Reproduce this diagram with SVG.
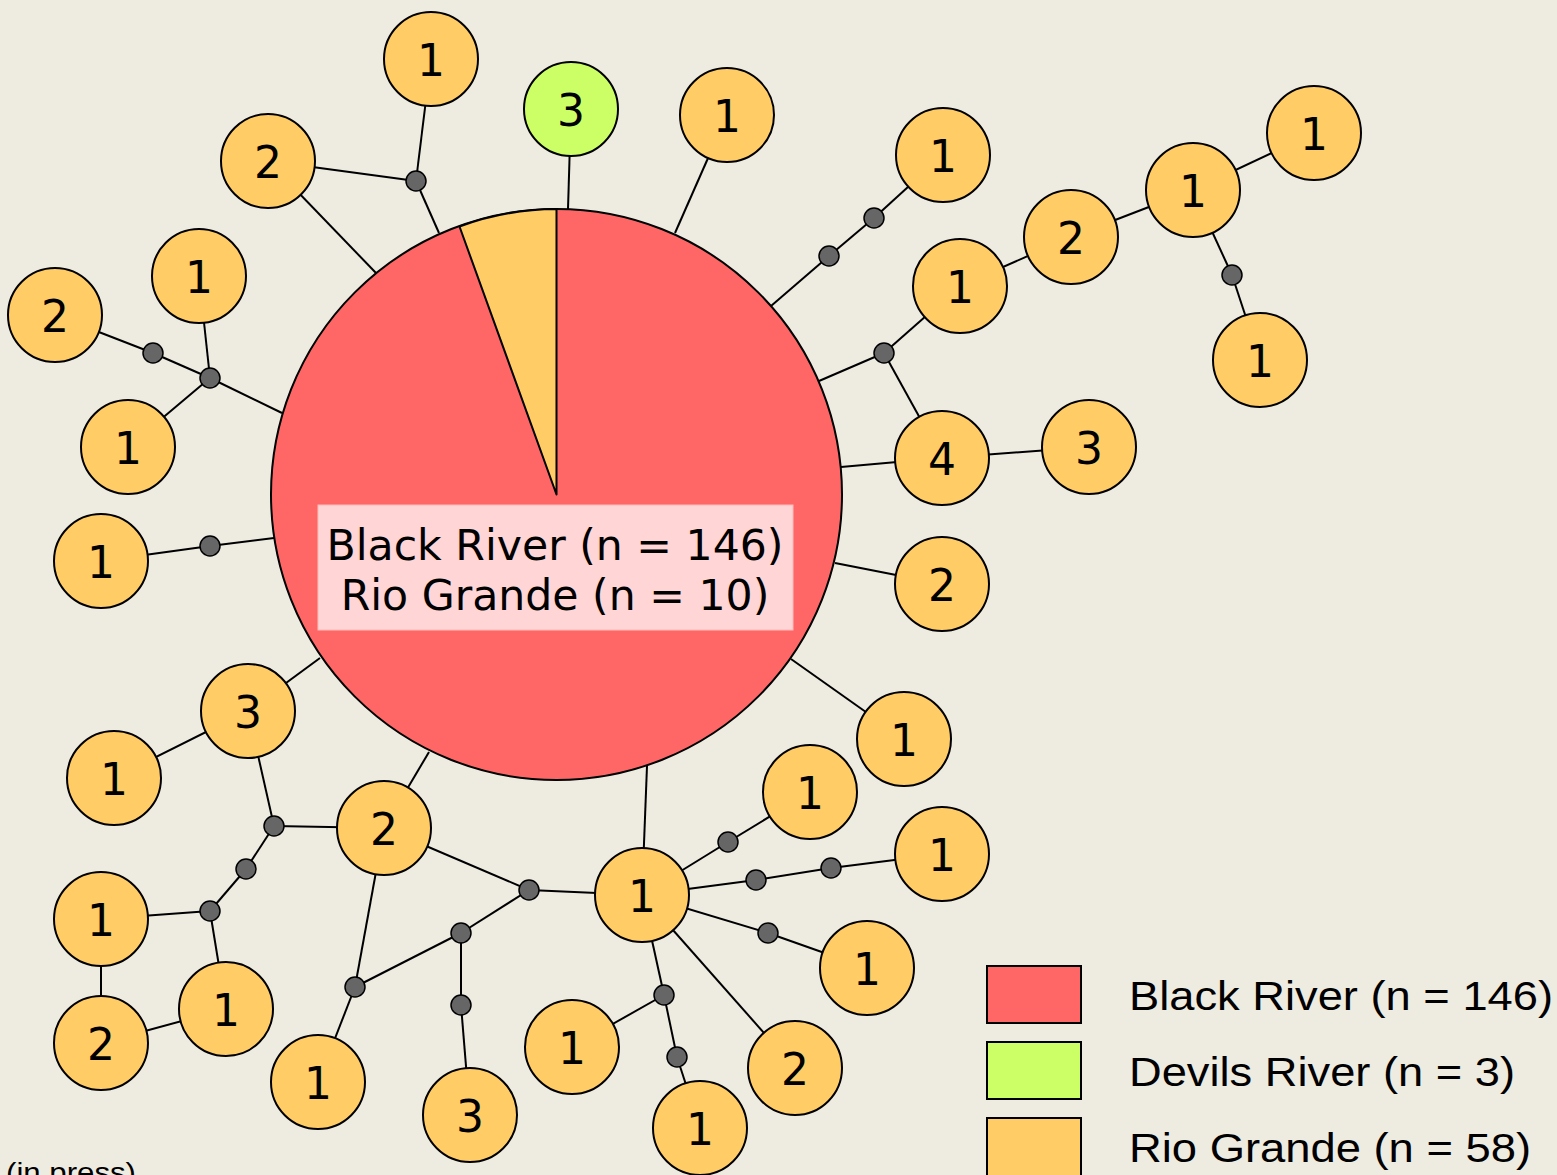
<svg xmlns="http://www.w3.org/2000/svg" width="1557" height="1175" viewBox="0 0 1557 1175">
<style>
.e{stroke:#000;stroke-width:2;fill:none}
.n{fill:#ffcc66;stroke:#000;stroke-width:2}
.g{fill:#ccff66;stroke:#000;stroke-width:2}
.d{fill:#666;stroke:#000;stroke-width:1.5}
.t{font-family:"DejaVu Sans",Verdana,sans-serif;font-size:44px;text-anchor:middle;fill:#000}
.lg{font-family:"Liberation Sans",Arial,sans-serif;font-size:40px;fill:#000}
</style>
<rect width="1557" height="1175" fill="#eeebe1"/>
<g id="connectors" class="e">
<line x1="431" y1="59" x2="416" y2="181"/>
<line x1="268" y1="161" x2="416" y2="181"/>
<line x1="416" y1="181" x2="439" y2="233"/>
<line x1="268" y1="161" x2="376" y2="273"/>
<line x1="571" y1="109" x2="568" y2="209"/>
<line x1="727" y1="115" x2="675" y2="233"/>
<line x1="943" y1="155" x2="874" y2="218"/>
<line x1="874" y1="218" x2="829" y2="256"/>
<line x1="829" y1="256" x2="771" y2="306"/>
<line x1="819" y1="381" x2="884" y2="353"/>
<line x1="884" y1="353" x2="960" y2="286"/>
<line x1="884" y1="353" x2="942" y2="458"/>
<line x1="960" y1="286" x2="1071" y2="237"/>
<line x1="1071" y1="237" x2="1193" y2="190"/>
<line x1="1193" y1="190" x2="1314" y2="133"/>
<line x1="1193" y1="190" x2="1232" y2="275"/>
<line x1="1232" y1="275" x2="1260" y2="360"/>
<line x1="841" y1="467" x2="942" y2="458"/>
<line x1="942" y1="458" x2="1089" y2="447"/>
<line x1="835" y1="563" x2="942" y2="584"/>
<line x1="791" y1="659" x2="904" y2="739"/>
<line x1="55" y1="315" x2="153" y2="353"/>
<line x1="153" y1="353" x2="210" y2="378"/>
<line x1="199" y1="276" x2="210" y2="378"/>
<line x1="128" y1="447" x2="210" y2="378"/>
<line x1="210" y1="378" x2="282" y2="413"/>
<line x1="101" y1="561" x2="210" y2="546"/>
<line x1="210" y1="546" x2="274" y2="538"/>
<line x1="248" y1="711" x2="320" y2="658"/>
<line x1="248" y1="711" x2="114" y2="778"/>
<line x1="248" y1="711" x2="274" y2="826"/>
<line x1="274" y1="826" x2="384" y2="828"/>
<line x1="274" y1="826" x2="246" y2="869"/>
<line x1="246" y1="869" x2="210" y2="911"/>
<line x1="210" y1="911" x2="101" y2="919"/>
<line x1="210" y1="911" x2="226" y2="1009"/>
<line x1="101" y1="919" x2="101" y2="1043"/>
<line x1="101" y1="1043" x2="226" y2="1009"/>
<line x1="384" y1="828" x2="429" y2="752"/>
<line x1="384" y1="828" x2="529" y2="890"/>
<line x1="384" y1="828" x2="355" y2="987"/>
<line x1="355" y1="987" x2="318" y2="1082"/>
<line x1="355" y1="987" x2="461" y2="933"/>
<line x1="461" y1="933" x2="529" y2="890"/>
<line x1="461" y1="933" x2="461" y2="1005"/>
<line x1="461" y1="1005" x2="470" y2="1115"/>
<line x1="529" y1="890" x2="642" y2="895"/>
<line x1="642" y1="895" x2="647" y2="766"/>
<line x1="642" y1="895" x2="728" y2="842"/>
<line x1="728" y1="842" x2="810" y2="792"/>
<line x1="642" y1="895" x2="756" y2="880"/>
<line x1="756" y1="880" x2="831" y2="868"/>
<line x1="831" y1="868" x2="942" y2="854"/>
<line x1="642" y1="895" x2="768" y2="933"/>
<line x1="768" y1="933" x2="867" y2="968"/>
<line x1="642" y1="895" x2="795" y2="1068"/>
<line x1="642" y1="895" x2="664" y2="995"/>
<line x1="664" y1="995" x2="572" y2="1047"/>
<line x1="664" y1="995" x2="677" y2="1057"/>
<line x1="677" y1="1057" x2="700" y2="1128"/>
</g>
<g id="hub">
<circle cx="556.5" cy="494.5" r="285.5" fill="#ff6666" stroke="#000" stroke-width="2"/>
<path d="M556.5,494.5 L556.5,209 A285.5,285.5 0 0 0 459.5,226.5 Z" fill="#ffcc66" stroke="#000" stroke-width="2" stroke-linejoin="round"/>
<rect x="318" y="505" width="475" height="125" fill="#ffd5d5" stroke="#ffbcbc" stroke-width="1"/>
<text class="t" x="555" y="560" style="font-size:42.6px">Black River (n = 146)</text>
<text class="t" x="555" y="610" style="font-size:42.6px">Rio Grande (n = 10)</text>
</g>
<g id="dots">
<circle class="d" cx="416" cy="181" r="10"/>
<circle class="d" cx="874" cy="218" r="10"/>
<circle class="d" cx="829" cy="256" r="10"/>
<circle class="d" cx="884" cy="353" r="10"/>
<circle class="d" cx="1232" cy="275" r="10"/>
<circle class="d" cx="153" cy="353" r="10"/>
<circle class="d" cx="210" cy="378" r="10"/>
<circle class="d" cx="210" cy="546" r="10"/>
<circle class="d" cx="274" cy="826" r="10"/>
<circle class="d" cx="246" cy="869" r="10"/>
<circle class="d" cx="210" cy="911" r="10"/>
<circle class="d" cx="355" cy="987" r="10"/>
<circle class="d" cx="461" cy="933" r="10"/>
<circle class="d" cx="461" cy="1005" r="10"/>
<circle class="d" cx="529" cy="890" r="10"/>
<circle class="d" cx="728" cy="842" r="10"/>
<circle class="d" cx="756" cy="880" r="10"/>
<circle class="d" cx="831" cy="868" r="10"/>
<circle class="d" cx="768" cy="933" r="10"/>
<circle class="d" cx="664" cy="995" r="10"/>
<circle class="d" cx="677" cy="1057" r="10"/>
</g>
<g id="n1"><circle class="n" cx="431" cy="59" r="47"/><text class="t" x="431" y="76">1</text></g>
<g id="n2"><circle class="n" cx="268" cy="161" r="47"/><text class="t" x="268" y="178">2</text></g>
<g id="n3"><circle class="g" cx="571" cy="109" r="47"/><text class="t" x="571" y="126">3</text></g>
<g id="n4"><circle class="n" cx="727" cy="115" r="47"/><text class="t" x="727" y="132">1</text></g>
<g id="n5"><circle class="n" cx="943" cy="155" r="47"/><text class="t" x="943" y="172">1</text></g>
<g id="n6"><circle class="n" cx="1314" cy="133" r="47"/><text class="t" x="1314" y="150">1</text></g>
<g id="n7"><circle class="n" cx="1193" cy="190" r="47"/><text class="t" x="1193" y="207">1</text></g>
<g id="n8"><circle class="n" cx="1071" cy="237" r="47"/><text class="t" x="1071" y="254">2</text></g>
<g id="n9"><circle class="n" cx="960" cy="286" r="47"/><text class="t" x="960" y="303">1</text></g>
<g id="n10"><circle class="n" cx="1260" cy="360" r="47"/><text class="t" x="1260" y="377">1</text></g>
<g id="n11"><circle class="n" cx="199" cy="276" r="47"/><text class="t" x="199" y="293">1</text></g>
<g id="n12"><circle class="n" cx="55" cy="315" r="47"/><text class="t" x="55" y="332">2</text></g>
<g id="n13"><circle class="n" cx="128" cy="447" r="47"/><text class="t" x="128" y="464">1</text></g>
<g id="n14"><circle class="n" cx="942" cy="458" r="47"/><text class="t" x="942" y="475">4</text></g>
<g id="n15"><circle class="n" cx="1089" cy="447" r="47"/><text class="t" x="1089" y="464">3</text></g>
<g id="n16"><circle class="n" cx="101" cy="561" r="47"/><text class="t" x="101" y="578">1</text></g>
<g id="n17"><circle class="n" cx="942" cy="584" r="47"/><text class="t" x="942" y="601">2</text></g>
<g id="n18"><circle class="n" cx="248" cy="711" r="47"/><text class="t" x="248" y="728">3</text></g>
<g id="n19"><circle class="n" cx="114" cy="778" r="47"/><text class="t" x="114" y="795">1</text></g>
<g id="n20"><circle class="n" cx="904" cy="739" r="47"/><text class="t" x="904" y="756">1</text></g>
<g id="n21"><circle class="n" cx="384" cy="828" r="47"/><text class="t" x="384" y="845">2</text></g>
<g id="n22"><circle class="n" cx="810" cy="792" r="47"/><text class="t" x="810" y="809">1</text></g>
<g id="n23"><circle class="n" cx="942" cy="854" r="47"/><text class="t" x="942" y="871">1</text></g>
<g id="n24"><circle class="n" cx="642" cy="895" r="47"/><text class="t" x="642" y="912">1</text></g>
<g id="n25"><circle class="n" cx="101" cy="919" r="47"/><text class="t" x="101" y="936">1</text></g>
<g id="n26"><circle class="n" cx="867" cy="968" r="47"/><text class="t" x="867" y="985">1</text></g>
<g id="n27"><circle class="n" cx="101" cy="1043" r="47"/><text class="t" x="101" y="1060">2</text></g>
<g id="n28"><circle class="n" cx="226" cy="1009" r="47"/><text class="t" x="226" y="1026">1</text></g>
<g id="n29"><circle class="n" cx="572" cy="1047" r="47"/><text class="t" x="572" y="1064">1</text></g>
<g id="n30"><circle class="n" cx="795" cy="1068" r="47"/><text class="t" x="795" y="1085">2</text></g>
<g id="n31"><circle class="n" cx="318" cy="1082" r="47"/><text class="t" x="318" y="1099">1</text></g>
<g id="n32"><circle class="n" cx="470" cy="1115" r="47"/><text class="t" x="470" y="1132">3</text></g>
<g id="n33"><circle class="n" cx="700" cy="1128" r="47"/><text class="t" x="700" y="1145">1</text></g>
<g id="legend">
<rect x="987" y="966" width="94" height="57" fill="#ff6666" stroke="#000" stroke-width="2"/>
<rect x="987" y="1042" width="94" height="57" fill="#ccff66" stroke="#000" stroke-width="2"/>
<rect x="987" y="1118" width="94" height="60" fill="#ffcc66" stroke="#000" stroke-width="2"/>
<text class="lg" x="1129" y="1010" textLength="424" lengthAdjust="spacingAndGlyphs">Black River (n = 146)</text>
<text class="lg" x="1129" y="1086" textLength="386" lengthAdjust="spacingAndGlyphs">Devils River (n = 3)</text>
<text class="lg" x="1129" y="1162" textLength="402" lengthAdjust="spacingAndGlyphs">Rio Grande (n = 58)</text>
</g>
<text class="lg" x="6" y="1182" style="font-size:28px" textLength="130" lengthAdjust="spacingAndGlyphs">(in press)</text>
</svg>
